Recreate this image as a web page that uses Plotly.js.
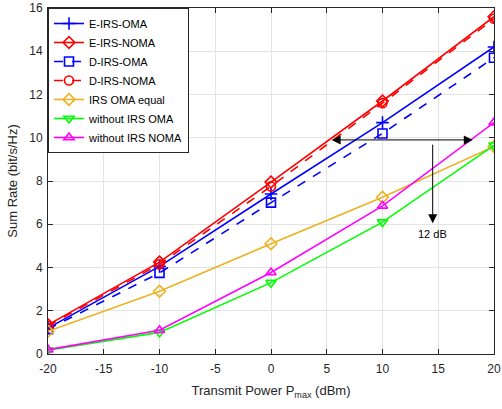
<!DOCTYPE html>
<html>
<head>
<meta charset="utf-8">
<script src="https://cdn.plot.ly/plotly-3.0.1.min.js"></script>
<style>html,body{margin:0;padding:0;background:#fff}#chart{width:502px;height:409px}</style>
</head>
<body>
<div id="chart"></div>
<script>
const power = [-20, -10, 0, 10, 20];
const eIrsOma = [1.2, 4.05, 7.4, 10.7, 14.2];
const eIrsNoma = [1.35, 4.25, 7.95, 11.7, 15.6];
const dIrsOma = [1.15, 3.75, 7.0, 10.2, 13.7];
const dIrsNoma = [1.3, 4.15, 7.75, 11.6, 15.5];
const irsOmaEqual = [1.05, 2.9, 5.1, 7.25, 9.6];
const withoutIrsOma = [0.18, 1.0, 3.3, 6.1, 9.65];
const withoutIrsNoma = [0.2, 1.1, 3.77, 6.85, 10.7];

const xTickVals = [-20, -15, -10, -5, 0, 5, 10, 15, 20];
const xTickText = ['-20', '-15', '-10', '-5', '0', '5', '10', '15', '20'];
const yTickVals = [0, 2, 4, 6, 8, 10, 12, 14, 16];

const seriesNames = ['E-IRS-OMA','E-IRS-NOMA','D-IRS-OMA','D-IRS-NOMA','IRS OMA equal','without IRS OMA','without IRS NOMA'];
const seriesData = [eIrsOma, eIrsNoma, dIrsOma, dIrsNoma, irsOmaEqual, withoutIrsOma, withoutIrsNoma];
const colors = ['#0000ff','#ff0000','#0000ff','#ff0000','#edb120','#00ff00','#ff00ff'];
const dashes = ['solid','solid','dash','dash','solid','solid','solid'];
const symbols = ['cross-thin-open','diamond-open','square-open','circle-open','diamond-open','triangle-down-open','triangle-up-open'];

const traces = seriesData.map((d,i)=>({
  x: power, y: d, name: seriesNames[i], type:'scatter', mode:'lines+markers',
  line:{color:colors[i], width:1.6, dash:dashes[i]},
  marker:{symbol:symbols[i], size: 9, color:colors[i], line:{color:colors[i], width:1.6}}
}));

const axisCommon = {
  showline:true, linecolor:'#262626', linewidth:1, mirror:'ticks',
  ticks:'inside', ticklen:5, tickcolor:'#262626',
  showgrid:true, gridcolor:'#e3e3e3', gridwidth:1, zeroline:false,
  ticklabeloverflow:'allow',
  tickfont:{family:'Liberation Sans, Arial, sans-serif', size:12, color:'#262626'}
};

const layout = {
  width:502, height:409,
  margin:{l:48, r:8, t:8, b:55},
  paper_bgcolor:'#fff', plot_bgcolor:'#fff',
  font:{family:'Liberation Sans, Arial, sans-serif', color:'#262626'},
  xaxis: Object.assign({}, axisCommon, {range:[-20,20], tickmode:'array', tickvals:xTickVals, ticktext:xTickText,
    ticklabelstandoff:4,
    title:{text:'Transmit Power P<sub>max</sub> (dBm)', font:{size:13, color:'#262626'}, standoff:10}}),
  yaxis: Object.assign({}, axisCommon, {range:[0,16], tickmode:'array', tickvals:yTickVals,
    ticklabelstandoff:2,
    title:{text:'Sum Rate (bit/s/Hz)', font:{size:13, color:'#262626'}, standoff:8}}),
  showlegend:true,
  legend:{x:0, y:1, xanchor:'left', yanchor:'top', bgcolor:'#fff', bordercolor:'#262626', borderwidth:1,
    font:{size:11, color:'#000'}, tracegroupgap:0, itemwidth:30},
  annotations:[
    {x:18.1, y:9.9, ax:5.3, ay:9.9, xref:'x', yref:'y', axref:'x', ayref:'y', text:'', showarrow:true,
     arrowhead:2, startarrowhead:2, arrowside:'end+start', arrowsize:1.8, arrowwidth:1, arrowcolor:'#000'},
    {x:14.5, y:6.05, ax:14.5, ay:9.75, xref:'x', yref:'y', axref:'x', ayref:'y', text:'', showarrow:true,
     arrowhead:2, arrowsize:1.8, arrowwidth:1, arrowcolor:'#000'},
    {x:14.5, y:5.55, xref:'x', yref:'y', text:'12 dB', showarrow:false, font:{size:11, color:'#000'}}
  ]
};

Plotly.newPlot('chart', traces, layout, {displayModeBar:false, staticPlot:true});
</script>
</body>
</html>
